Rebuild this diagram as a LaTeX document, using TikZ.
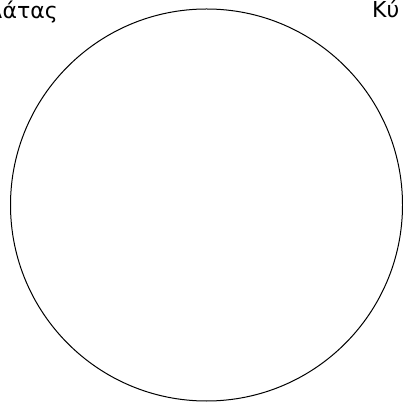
\documentclass[tikz,border=0pt]{standalone}
\usepackage{fontspec}
\setmainfont{DejaVu Sans}
\tikzset{lbl/.style={font=\fontsize{22}{26}\selectfont, inner sep=0pt, anchor=base east},
  ring/.style={draw=black, line width=1pt}}
\begin{document}
\begin{tikzpicture}[x=1pt,y=1pt]
\useasboundingbox (0,0) rectangle (403,401);
\clip (0,0) rectangle (403,401);
\node[ring, circle, minimum size=392pt, inner sep=0pt] (c) at (206.5,196) {};
\node[lbl] (l) at (58,382) {λάτας};
\node[lbl, anchor=base west] (r) at (372,383) {Κύ};
\end{tikzpicture}
\end{document}
